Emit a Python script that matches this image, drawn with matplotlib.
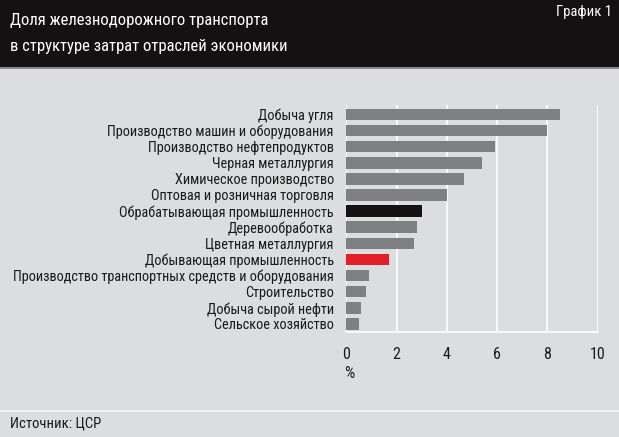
import numpy as np
import matplotlib.pyplot as plt
import matplotlib.font_manager as fm
from matplotlib.patches import Rectangle

# data
categories = ['Добыча угля', 'Производство машин и оборудования',
              'Производство нефтепродуктов', 'Черная металлургия',
              'Химическое производство', 'Оптовая и розничная торговля',
              'Обрабатывающая промышленность', 'Деревообработка',
              'Цветная металлургия', 'Добывающая промышленность',
              'Производство транспортных средств и оборудования',
              'Строительство', 'Добыча сырой нефти', 'Сельское хозяйство']
values = [8.5, 8.0, 5.9, 5.4, 4.7, 4.0, 3.0, 2.8, 2.7, 1.7, 0.9, 0.8, 0.6, 0.5]
x_ticks = [0, 2, 4, 6, 8, 10]

GRAY = '#7f8083'
BLACK = '#151112'
RED = '#e31e24'
BG = '#dcdddf'
bar_colors = [GRAY] * len(values)
bar_colors[categories.index('Обрабатывающая промышленность')] = BLACK
bar_colors[categories.index('Добывающая промышленность')] = RED

# pick a narrow font if there is one
names = {f.name for f in fm.fontManager.ttflist}
family = ['DejaVu Sans']
for cand in ['Liberation Sans Narrow', 'DejaVu Sans Condensed', 'Roboto Condensed']:
    if cand in names:
        family = [cand, 'DejaVu Sans']
        break
plt.rcParams['font.family'] = family

W, H = 619, 437
fig = plt.figure(figsize=(W / 100, H / 100), dpi=100, facecolor=BG)

# header band and footer rule
fig.add_artist(Rectangle((0, 1 - 67 / H), 1, 67 / H, transform=fig.transFigure,
                         facecolor=BLACK, edgecolor='none'))
fig.add_artist(Rectangle((0, 1 - 69 / H), 1, 2 / H, transform=fig.transFigure,
                         facecolor='#8a8a8c', edgecolor='none'))
fig.add_artist(Rectangle((0, 1 - 412 / H), 1, 2 / H, transform=fig.transFigure,
                         facecolor='#f2f2f2', edgecolor='none'))

fig.text(10 / W, 1 - 20 / H, 'Доля железнодорожного транспорта', color='white',
         fontsize=12, va='center', ha='left')
fig.text(10 / W, 1 - 46 / H, 'в структуре затрат отраслей экономики', color='white',
         fontsize=12, va='center', ha='left')
fig.text(612 / W, 1 - 12 / H, 'График 1', color='white', fontsize=10.5,
         va='center', ha='right')
fig.text(10 / W, 1 - 424 / H, 'Источник: ЦСР', color='#1a1a1a', fontsize=10.5,
         va='center', ha='left')

ax = fig.add_axes([346.3 / W, 1 - 332 / H, 251.4 / W, 227 / H])
ax.set_facecolor(BG)
pos = np.arange(len(categories))
ax.barh(pos, values, height=0.72, color=bar_colors, zorder=3)
ax.set_xlim(0, 10)
ax.set_ylim(len(categories) - 0.5, -0.58)
ax.set_xticks(x_ticks)
ax.set_xticklabels([str(t) for t in x_ticks])
ax.set_yticks(pos)
ax.set_yticklabels(categories)
ax.grid(axis='x', color='white', linewidth=1.2, zorder=1)
for s in ['top', 'left', 'right']:
    ax.spines[s].set_visible(False)
ax.spines['bottom'].set_color('white')
ax.spines['bottom'].set_linewidth(1.2)
ax.tick_params(axis='y', length=0, pad=9, labelsize=10.3, labelcolor='#1a1a1a')
ax.tick_params(axis='x', length=0, pad=11, labelsize=11.5, labelcolor='#1a1a1a')
fig.text(349 / W, 1 - 374 / H, '%', color='#1a1a1a', fontsize=11.5,
         va='center', ha='center')

fig.savefig('out.png', dpi=100, facecolor=BG)
